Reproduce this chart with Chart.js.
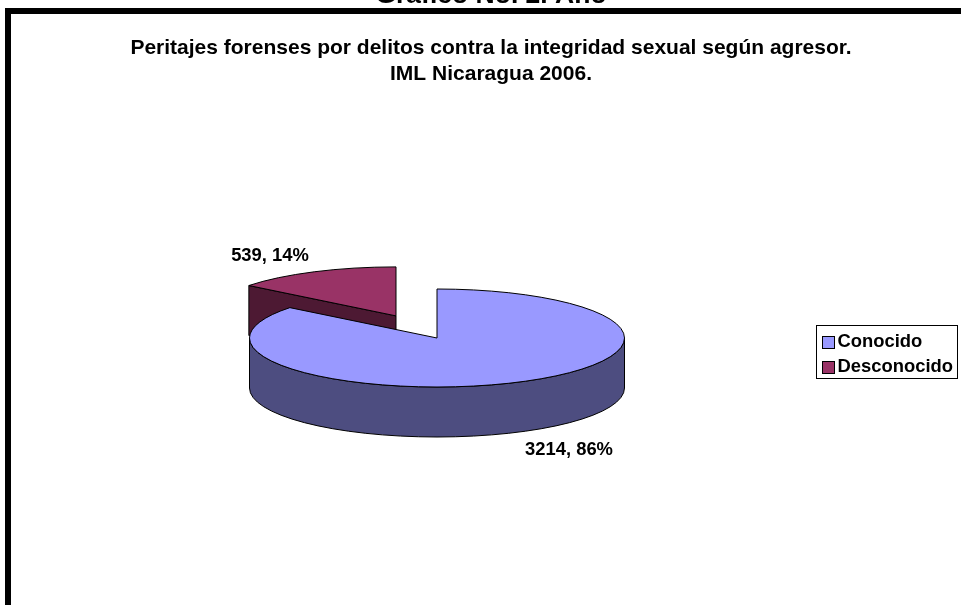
<!DOCTYPE html>
<html><head><meta charset="utf-8">
<style>html,body{margin:0;padding:0;background:#fff;overflow:hidden}#w{position:relative;width:961px;height:605px}canvas{display:block}</style>
<script src="https://cdn.jsdelivr.net/npm/chart.js@4"></script></head>
<body><div id="w"><canvas id="c" width="961" height="605"></canvas></div>
<script>
const categories = ['Conocido', 'Desconocido'];
const values = [3214, 539];
const percents = [86, 14];
const topColors = ['#9999FF', '#993366'];
const sideColors = ['#4D4D80', '#4D1933'];
const explode = [0, 94];
const titleLines = ['Peritajes forenses por delitos contra la integridad sexual según agresor.', 'IML Nicaragua 2006.'];
const headerText = 'Gráfico No. 2. Año';
const FONT = '"Liberation Sans", Arial, sans-serif';
const PIE = {cx: 437, cy: 338, rx: 187.5, ry: 49, depth: 50};
const labelPos = [[569, 450], [270, 256]];

const pie3d = {
  id: 'pie3d',
  beforeDraw(chart) {
    const c = chart.ctx;
    c.save();
    c.fillStyle = '#000';
    c.fillRect(5, 8, 956, 6);
    c.fillRect(5, 8, 6, 597);
    c.font = 'bold 26.5px ' + FONT;
    c.textAlign = 'center';
    c.textBaseline = 'alphabetic';
    c.fillText(headerText, 491, 3);
    c.restore();
  },
  beforeDatasetsDraw(chart) {
    const c = chart.ctx, arcs = chart.getDatasetMeta(0).data;
    c.save();
    c.lineWidth = 1;
    c.strokeStyle = '#000';
    c.lineJoin = 'round';
    [1, 0].forEach(i => {
      const a = arcs[i], s = a.startAngle, e = a.endAngle, m = (s + e) / 2;
      const off = a.options.offset || 0;
      const x = PIE.cx + Math.cos(m) * off, y = PIE.cy + Math.sin(m) * off * PIE.ry / PIE.rx;
      const d = PIE.depth;
      if (i === 1) {
        const px = x + Math.cos(s) * PIE.rx, py = y + Math.sin(s) * PIE.ry;
        c.beginPath();
        c.moveTo(px, py); c.lineTo(x, y); c.lineTo(x, y + d); c.lineTo(px, py + d); c.closePath();
        c.fillStyle = sideColors[i]; c.fill(); c.stroke();
      } else {
        c.beginPath();
        c.ellipse(x, y, PIE.rx, PIE.ry, 0, 0, Math.PI);
        c.ellipse(x, y + d, PIE.rx, PIE.ry, 0, Math.PI, 0, true);
        c.closePath();
        c.fillStyle = sideColors[i]; c.fill(); c.stroke();
      }
      c.beginPath();
      c.moveTo(x, y);
      c.ellipse(x, y, PIE.rx, PIE.ry, 0, s, e);
      c.closePath();
      c.fillStyle = topColors[i]; c.fill(); c.stroke();
    });
    c.fillStyle = '#000';
    c.font = 'bold 18.4px ' + FONT;
    c.textAlign = 'center';
    c.textBaseline = 'middle';
    values.forEach((v, i) => c.fillText(v + ', ' + percents[i] + '%', labelPos[i][0], labelPos[i][1]));
    c.restore();
    return false;
  },
  afterDraw(chart) {
    const c = chart.ctx, l = chart.legend;
    c.save();
    c.strokeStyle = '#000';
    c.lineWidth = 1;
    c.strokeRect(816.5, 325.5, 141, 53);
    l.legendHitBoxes.forEach((h, i) => {
      const sx = Math.round(h.left) + 1.5, sy = Math.round(h.top + h.height / 2 - 6) + 0.5;
      c.fillStyle = topColors[i];
      c.fillRect(sx, sy, 12, 12);
      c.strokeRect(sx, sy, 12, 12);
    });
    c.restore();
  }
};

new Chart(document.getElementById('c'), {
  type: 'pie',
  data: {labels: categories, datasets: [{data: values, backgroundColor: topColors, borderColor: '#000', borderWidth: 1, offset: explode}]},
  plugins: [pie3d],
  options: {
    responsive: false, animation: false,
    layout: {padding: {top: 35, right: -2, bottom: 0, left: 19}},
    plugins: {
      tooltip: {enabled: false},
      title: {display: true, text: titleLines, color: '#000', font: {family: FONT, size: 21, weight: 'bold', lineHeight: 1.25}, padding: {top: 0, bottom: 15.5}},
      legend: {
        position: 'right',
        fullSize: false,
        labels: {
          color: '#000', font: {family: FONT, size: 18.4, weight: 'bold'},
          boxWidth: 7, boxHeight: 7, padding: 6.6,
          generateLabels: () => categories.map((t, i) => ({text: t, fillStyle: 'rgba(0,0,0,0)', strokeStyle: 'rgba(0,0,0,0)', lineWidth: 0, index: i, datasetIndex: 0}))
        }
      }
    }
  }
});
</script></body></html>
